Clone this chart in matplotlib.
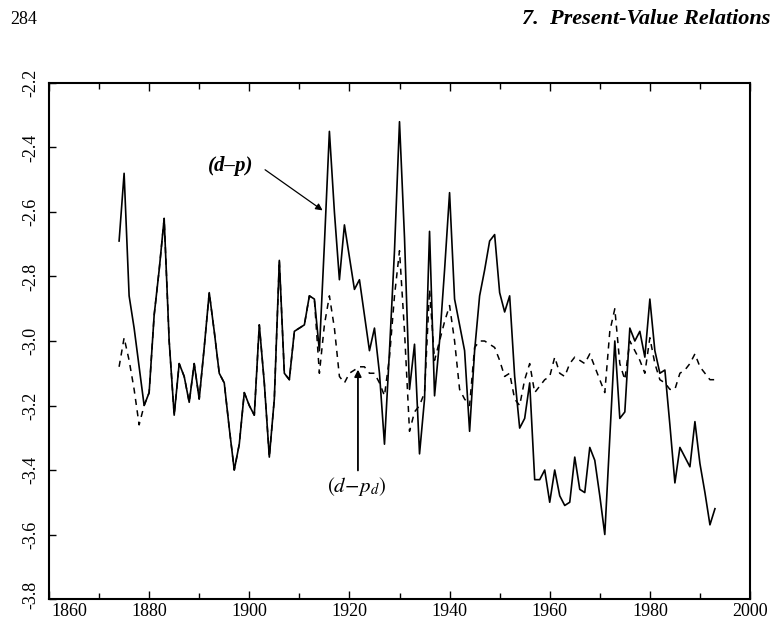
import matplotlib
matplotlib.use("Agg")
import matplotlib.pyplot as plt
import matplotlib.transforms as mtransforms
from matplotlib.ticker import MultipleLocator, FuncFormatter

plt.rcParams['mathtext.fontset'] = 'stix'

years = list(range(1874, 1994))

d_p = [-2.69, -2.48, -2.86, -2.96, -3.08, -3.20, -3.16, -2.92, -2.78, -2.62,
       -3.00, -3.23, -3.07, -3.11, -3.19, -3.07, -3.18, -3.02, -2.85, -2.97,
       -3.10, -3.13, -3.27, -3.40, -3.32, -3.16, -3.20, -3.23, -2.95, -3.13,
       -3.36, -3.18, -2.75, -3.10, -3.12, -2.97, -2.96, -2.95, -2.86, -2.87,
       -3.03, -2.70, -2.35, -2.60, -2.81, -2.64, -2.74, -2.84, -2.81, -2.92,
       -3.03, -2.96, -3.10, -3.32, -3.03, -2.72, -2.32, -2.68, -3.15, -3.01,
       -3.35, -3.18, -2.66, -3.17, -3.00, -2.78, -2.54, -2.87, -2.95, -3.03,
       -3.28, -3.03, -2.86, -2.78, -2.69, -2.67, -2.85, -2.91, -2.86, -3.11,
       -3.27, -3.24, -3.13, -3.43, -3.43, -3.40, -3.50, -3.40, -3.48, -3.51,
       -3.50, -3.36, -3.46, -3.47, -3.33, -3.37, -3.48, -3.60, -3.30, -3.00,
       -3.24, -3.22, -2.96, -3.00, -2.97, -3.05, -2.87, -3.03, -3.10, -3.09,
       -3.26, -3.44, -3.33, -3.36, -3.39, -3.25, -3.38, -3.47, -3.57, -3.52]

d_pd = [-3.08, -2.99, -3.06, -3.15, -3.26, -3.20, -3.16, -2.92, -2.78, -2.62,
        -3.00, -3.23, -3.07, -3.11, -3.19, -3.07, -3.18, -3.02, -2.85, -2.97,
        -3.10, -3.13, -3.27, -3.40, -3.32, -3.16, -3.20, -3.23, -2.95, -3.13,
        -3.36, -3.18, -2.75, -3.10, -3.12, -2.97, -2.96, -2.95, -2.86, -2.87,
        -3.10, -2.95, -2.86, -2.96, -3.11, -3.13, -3.10, -3.09, -3.08, -3.08,
        -3.10, -3.10, -3.13, -3.17, -3.05, -2.86, -2.72, -2.97, -3.28, -3.22,
        -3.20, -3.16, -2.84, -3.06, -3.00, -2.94, -2.89, -3.00, -3.15, -3.18,
        -3.20, -3.02, -3.00, -3.00, -3.01, -3.02, -3.06, -3.11, -3.10, -3.18,
        -3.20, -3.12, -3.07, -3.16, -3.14, -3.12, -3.11, -3.05, -3.10, -3.11,
        -3.07, -3.05, -3.06, -3.07, -3.04, -3.08, -3.12, -3.16, -2.97, -2.90,
        -3.07, -3.12, -3.00, -3.03, -3.06, -3.10, -2.99, -3.07, -3.12, -3.13,
        -3.15, -3.15, -3.10, -3.09, -3.07, -3.04, -3.08, -3.10, -3.12, -3.12]

x_ticks = [1860, 1880, 1900, 1920, 1940, 1960, 1980, 2000]
y_ticks = [-2.2, -2.4, -2.6, -2.8, -3.0, -3.2, -3.4, -3.6, -3.8]

serif = 'Liberation Serif'

fig = plt.figure(figsize=(7.71, 6.24), dpi=100)
ax = fig.add_axes([49/771, 1 - 599/624, (750 - 49)/771, (599 - 83)/624])

ax.plot(years, d_pd, color='black', lw=1.1, linestyle=(0, (4, 3.5)))
ax.plot(years, d_p, color='black', lw=1.2)

ax.set_xlim(1860, 2000)
ax.set_ylim(-3.8, -2.2)
ax.set_xticks(x_ticks)
ax.xaxis.set_minor_locator(MultipleLocator(10))
ax.set_yticks(y_ticks)
ax.yaxis.set_major_formatter(FuncFormatter(lambda v, p: f"{v:.1f}"))
ax.xaxis.set_major_formatter(FuncFormatter(lambda v, p: f"{int(round(v))}"))

ax.tick_params(axis='x', which='major', direction='in', top=True, bottom=True,
               length=6, width=1, pad=3, labelsize=13)
ax.tick_params(axis='x', which='minor', direction='in', top=True, bottom=True,
               length=4, width=1)
ax.tick_params(axis='y', which='both', direction='in', left=True, right=False,
               length=5, width=1, pad=7, labelsize=13)
for lab in ax.get_xticklabels():
    lab.set_fontfamily(serif)
for lab in ax.get_yticklabels():
    lab.set_fontfamily(serif)
    lab.set_rotation(90)
    lab.set_va('center')
for sp in ax.spines.values():
    sp.set_linewidth(1.5)

# shift the first x tick label right (as in the scanned original)
shift = mtransforms.ScaledTranslation(20/100, 0, fig.dpi_scale_trans)
first = ax.xaxis.get_major_ticks()[0]
first.label1.set_transform(first.label1.get_transform() + shift)
# nudge the lowest y label up slightly
ylow = ax.yaxis.get_major_ticks()[-1]
ylow.label1.set_transform(ylow.label1.get_transform() +
                          mtransforms.ScaledTranslation(0, 4/100, fig.dpi_scale_trans))

# annotations
ax.annotate('', xy=(1915.1, -2.60), xytext=(1902.7, -2.464),
            arrowprops=dict(arrowstyle='-|>', color='black', lw=0.9,
                            mutation_scale=10))
ax.text(1896.3, -2.457, '(d\u2013p)', family=serif, style='italic',
        weight='bold', fontsize=15, ha='center', va='center')
ax.annotate('', xy=(1921.7, -3.08), xytext=(1921.7, -3.41),
            arrowprops=dict(arrowstyle='-|>', color='black', lw=1.3,
                            mutation_scale=10))
ax.text(1921.4, -3.45, r'$(d\!-\!p_d)$', fontsize=15, ha='center', va='center')

# page header
fig.text(10/771, 1 - 19/624, '284', family=serif, fontsize=13,
         ha='left', va='center')
fig.text(522/771, 1 - 19/624, '7.  Present-Value Relations', family=serif,
         style='italic', weight='bold', fontsize=16, ha='left', va='center')

fig.savefig('out.png', dpi=100)
